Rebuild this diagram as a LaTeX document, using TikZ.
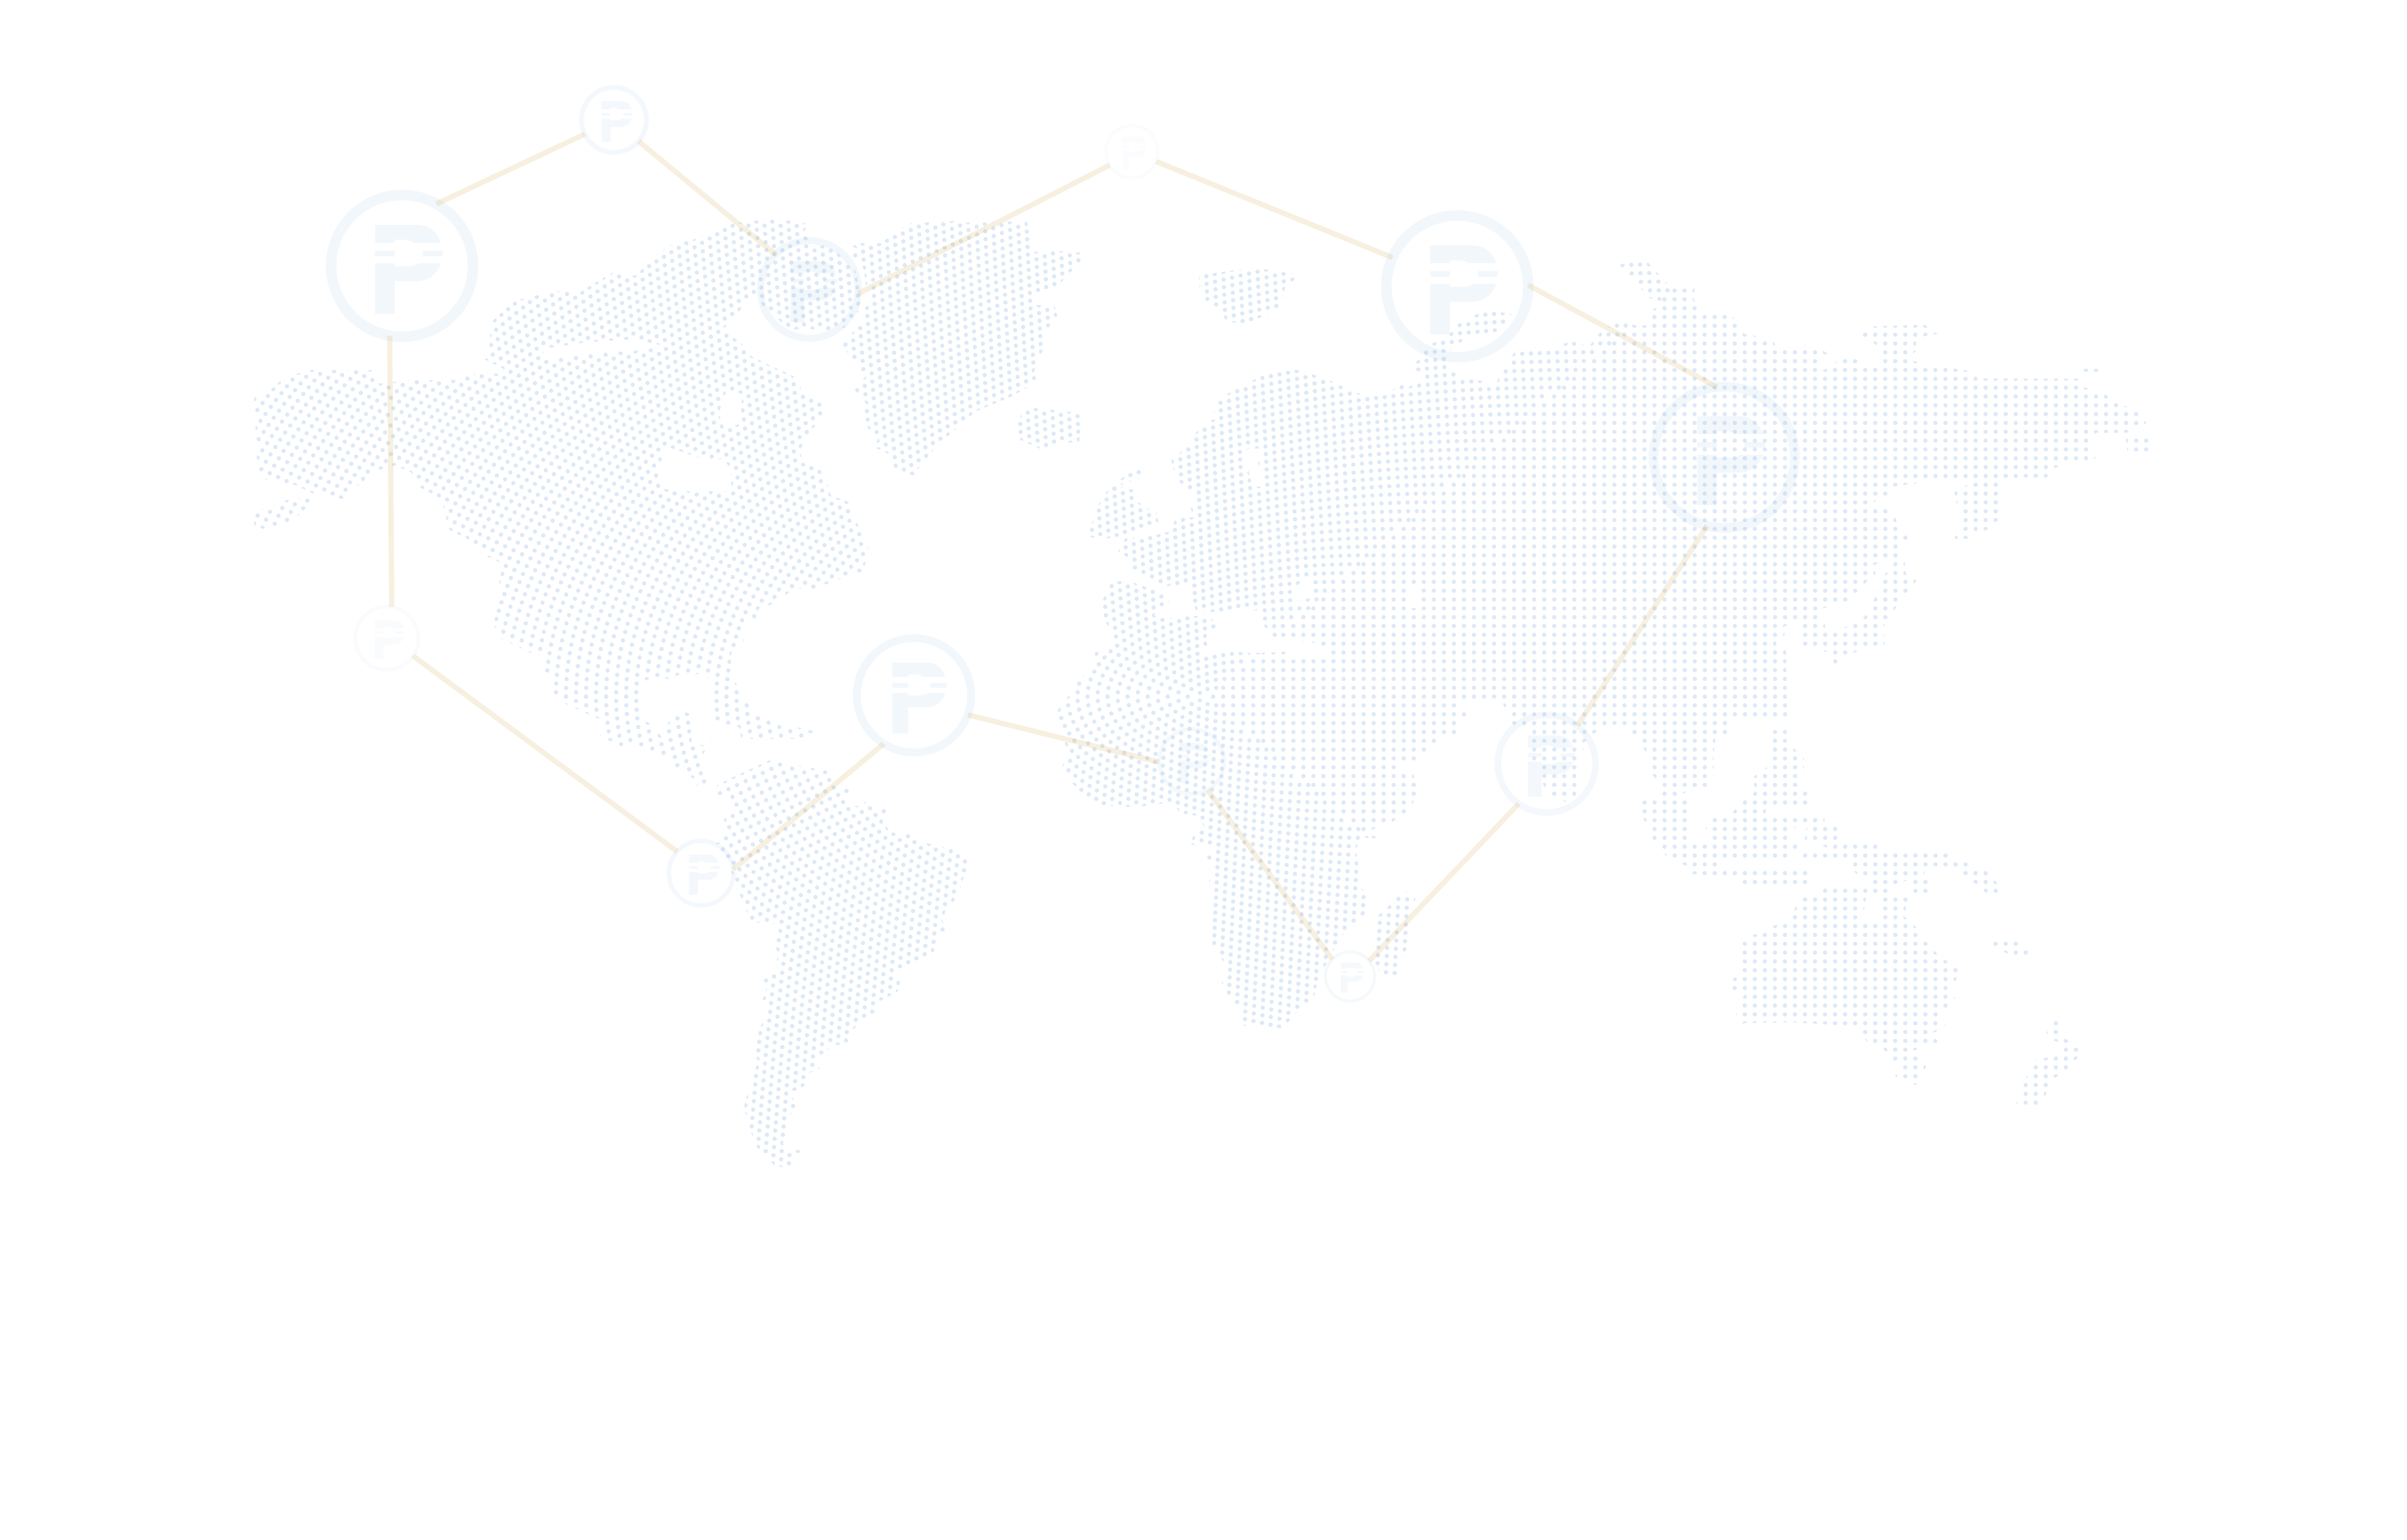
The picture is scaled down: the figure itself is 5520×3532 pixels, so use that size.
\documentclass[tikz,border=0pt]{standalone}
\usepackage{xcolor}
\definecolor{dotblue}{HTML}{DDE9F7}
\definecolor{linkgold}{HTML}{BE8500}
\definecolor{ringblue}{HTML}{438ECD}
\tikzset{
  ring/.style={circle,draw=ringblue,inner sep=0pt,outer sep=0pt},
  link/.style={draw=linkgold,line width=0.12cm,opacity=0.12},
  dotarc/.style={draw=dotblue,line width=0.1cm,line cap=round,dash pattern=on 0pt off 0.2cm},
  dotrow/.style={draw=dotblue,line width=0.1cm,line cap=round,dash pattern=on 0pt off 0.23cm}
}
\newcommand{\pmark}[3]{
  \fill[ringblue,opacity=#3,shift={(#1)},scale=#2] (-62,-94) -- (33,-94) .. controls (62,-94) and (80,-80) .. (89,-53) -- (26,-53) .. controls (20,-58) and (12,-60) .. (5,-60) -- (-17,-60) -- (-17,-53) -- (-62,-53) -- cycle;
  \fill[ringblue,opacity=#3,shift={(#1)},scale=#2] (-62,-35) rectangle (-17,-22) (47,-35) rectangle (93,-22);
  \fill[ringblue,opacity=#3,shift={(#1)},scale=#2] (-62,-6) -- (-17,-6) -- (-17,1) -- (5,1) .. controls (18,1) and (30,0) .. (38,-6) -- (89,-6) .. controls (80,20) and (60,35) .. (33,35) -- (-17,35) -- (-17,110) -- (-62,110) -- cycle;
}
\begin{document}
\begin{tikzpicture}[x=0.01cm,y=-0.01cm]
  \useasboundingbox (0,0) rectangle (5520,3532);
  \begin{scope}[even odd rule]
    \clip
      (583,912) -- (616,898) -- (649,869) -- (707,849) -- (852,849) -- (869,880) -- (939,872) -- (1039,872) -- (1097,855) -- (1147,858) -- (1155,846) -- (1109,823) -- (1122,797) -- (1126,740) -- (1176,691) -- (1271,668) -- (1329,671) -- (1366,648) -- (1412,622) -- (1437,634) -- (1462,631) -- (1491,593) -- (1549,556) -- (1590,550) -- (1677,513) -- (1768,502) -- (1797,504) -- (1857,514) -- (1841,533) -- (1867,565) -- (1905,562) -- (1934,594) -- (1959,610) -- (1966,641) -- (1975,686) -- (1966,721) -- (1937,751) -- (1901,759) -- (1845,753) -- (1808,758) -- (1774,721) -- (1755,710) -- (1730,673) -- (1717,687) -- (1677,737) -- (1656,756) -- (1672,769) -- (1695,782) -- (1723,817) -- (1765,838) -- (1810,858) -- (1832,871) -- (1838,900) -- (1880,917) -- (1891,946) -- (1864,983) -- (1841,1018) -- (1835,1034) -- (1841,1062) -- (1880,1075) -- (1896,1107) -- (1905,1136) -- (1947,1152) -- (1969,1209) -- (1982,1240) -- (1995,1268) -- (1977,1311) -- (1921,1330) -- (1867,1350) -- (1819,1350) -- (1790,1376) -- (1765,1388) -- (1739,1397) -- (1736,1417) -- (1711,1426) -- (1709,1450) -- (1702,1485) -- (1677,1496) -- (1675,1536) -- (1696,1587) -- (1727,1632) -- (1765,1650) -- (1790,1665) -- (1840,1670) -- (1868,1678) -- (1838,1695) -- (1700,1695) -- (1695,1668) -- (1640,1655) -- (1628,1640) -- (1625,1610) -- (1628,1557) -- (1606,1546) -- (1560,1546) -- (1537,1557) -- (1492,1556) -- (1467,1567) -- (1467,1650) -- (1492,1660) -- (1517,1690) -- (1537,1650) -- (1560,1628) -- (1582,1638) -- (1586,1700) -- (1610,1710) -- (1632,1700) -- (1612,1730) -- (1618,1755) -- (1620,1800) -- (1600,1810) -- (1596,1790) -- (1572,1773) -- (1547,1762) -- (1544,1742) -- (1520,1732) -- (1496,1722) -- (1472,1712) -- (1426,1712) -- (1378,1690) -- (1377,1650) -- (1353,1640) -- (1308,1620) -- (1284,1608) -- (1262,1578) -- (1262,1557) -- (1238,1546) -- (1240,1505) -- (1222,1500) -- (1197,1488) -- (1150,1465) -- (1133,1433) -- (1137,1393) -- (1143,1352) -- (1149,1313) -- (1153,1293) -- (1110,1273) -- (1072,1236) -- (1031,1216) -- (1018,1168) -- (1014,1145) -- (960,1116) -- (943,1084) -- (906,1067) -- (865,1079) -- (844,1104) -- (803,1119) -- (786,1145) -- (720,1133) -- (678,1113) -- (612,1101) -- (591,1090) -- (587,1001) -- cycle
      (1528,1024) -- (1611,1053) -- (1661,1053) -- (1677,1081) -- (1677,1127) -- (1578,1127) -- (1515,1121) -- (1507,1081) -- cycle
      (1665,898) -- (1702,903) -- (1698,972) -- (1661,984) -- (1648,949) -- cycle
      (1246,800) -- (1346,785) -- (1453,778) -- (1530,795) -- (1453,805) -- (1346,812) -- (1246,825) -- cycle
      (583,1173) -- (624,1162) -- (670,1142) -- (724,1145) -- (699,1168) -- (670,1196) -- (612,1216) -- (583,1205) -- cycle
      (1644,1802) -- (1647,1823) -- (1672,1831) -- (1679,1852) -- (1660,1881) -- (1667,1902) -- (1653,1931) -- (1631,1939) -- (1672,1989) -- (1682,2010) -- (1685,2030) -- (1704,2068) -- (1711,2088) -- (1726,2121) -- (1749,2113) -- (1778,2120) -- (1787,2138) -- (1774,2167) -- (1787,2188) -- (1778,2211) -- (1787,2229) -- (1746,2250) -- (1758,2267) -- (1749,2294) -- (1762,2312) -- (1752,2337) -- (1742,2362) -- (1733,2391) -- (1726,2416) -- (1739,2432) -- (1730,2460) -- (1723,2485) -- (1714,2511) -- (1707,2536) -- (1714,2577) -- (1736,2631) -- (1749,2648) -- (1778,2675) -- (1819,2681) -- (1825,2652) -- (1848,2641) -- (1806,2635) -- (1795,2623) -- (1803,2598) -- (1809,2573) -- (1816,2548) -- (1838,2536) -- (1822,2524) -- (1806,2507) -- (1832,2499) -- (1851,2486) -- (1857,2461) -- (1880,2451) -- (1864,2437) -- (1908,2416) -- (1892,2399) -- (1950,2395) -- (1940,2378) -- (1985,2333) -- (2010,2320) -- (2017,2297) -- (2058,2275) -- (2065,2250) -- (2052,2233) -- (2093,2214) -- (2138,2194) -- (2146,2167) -- (2154,2142) -- (2175,2131) -- (2160,2113) -- (2169,2088) -- (2199,2053) -- (2205,2026) -- (2215,2001) -- (2224,1974) -- (2183,1947) -- (2151,1941) -- (2119,1932) -- (2082,1906) -- (2061,1916) -- (2039,1904) -- (2023,1885) -- (2039,1859) -- (1985,1840) -- (1963,1850) -- (1940,1840) -- (1952,1811) -- (1926,1800) -- (1899,1769) -- (1800,1750) -- (1774,1740) -- (1752,1750) -- (1711,1769) -- (1666,1790) -- cycle
      (1943,558) -- (1982,558) -- (2020,558) -- (2068,523) -- (2090,512) -- (2189,507) -- (2231,512) -- (2291,509) -- (2355,507) -- (2364,555) -- (2371,578) -- (2432,576) -- (2495,581) -- (2460,619) -- (2428,653) -- (2371,673) -- (2377,699) -- (2419,704) -- (2425,728) -- (2390,766) -- (2398,788) -- (2384,820) -- (2371,852) -- (2377,876) -- (2358,887) -- (2323,908) -- (2237,944) -- (2189,986) -- (2144,1027) -- (2119,1059) -- (2093,1091) -- (2051,1072) -- (2042,1043) -- (2001,1024) -- (2014,1008) -- (1982,972) -- (1975,944) -- (1988,928) -- (1959,893) -- (1972,877) -- (1986,863) -- (1958,826) -- (1929,791) -- (1943,775) -- (1972,747) -- (1985,734) -- (1982,708) -- (1995,696) -- (1985,648) -- (1982,621) -- (1972,598) -- (1950,587) -- (1966,571) -- cycle
      (2347,936) -- (2393,937) -- (2435,943) -- (2482,948) -- (2475,1013) -- (2409,1020) -- (2391,1032) -- (2340,1009) -- (2333,978) -- cycle
      (2750,631) -- (2877,614) -- (2985,631) -- (2948,656) -- (2936,704) -- (2864,742) -- (2810,739) -- (2805,713) -- (2760,693) -- (2751,659) -- cycle
      (2628,1062) -- (2616,1095) -- (2565,1115) -- (2599,1124) -- (2603,1147) -- (2628,1164) -- (2653,1178) -- (2657,1202) -- (2620,1216) -- (2578,1228) -- (2541,1235) -- (2494,1232) -- (2507,1193) -- (2519,1158) -- (2548,1113) -- cycle
      (2564,1265) -- (2581,1235) -- (2642,1230) -- (2682,1219) -- (2697,1190) -- (2738,1186) -- (2730,1165) -- (2748,1141) -- (2723,1120) -- (2697,1100) -- (2686,1055) -- (2722,1026) -- (2736,1003) -- (2752,980) -- (2788,959) -- (2781,935) -- (2798,913) -- (2835,893) -- (2871,874) -- (2906,856) -- (2980,848) -- (3022,863) -- (3059,877) -- (3113,902) -- (3163,903) -- (3196,894) -- (3211,877) -- (3229,889) -- (3270,865) -- (3239,842) -- (3254,824) -- (3266,805) -- (3281,788) -- (3312,780) -- (3328,762) -- (3341,745) -- (3386,721) -- (3420,712) -- (3468,721) -- (3453,742) -- (3438,760) -- (3378,769) -- (3333,794) -- (3319,811) -- (3320,840) -- (3353,866) -- (3399,874) -- (3428,900) -- (3440,851) -- (3457,834) -- (3469,814) -- (3484,797) -- (3556,803) -- (3602,782) -- (3643,796) -- (3672,760) -- (3714,735) -- (3756,748) -- (3783,745) -- (3783,713) -- (3825,694) -- (3783,684) -- (3743,639) -- (3712,607) -- (3774,596) -- (3814,642) -- (3834,658) -- (3888,651) -- (3884,687) -- (3899,703) -- (3913,719) -- (3964,713) -- (3990,749) -- (4002,767) -- (4064,776) -- (4073,796) -- (4152,791) -- (4191,810) -- (4176,831) -- (4182,850) -- (4221,824) -- (4274,824) -- (4232,845) -- (4323,843) -- (4319,828) -- (4310,808) -- (4301,789) -- (4265,773) -- (4283,749) -- (4413,745) -- (4450,764) -- (4395,775) -- (4393,805) -- (4377,826) -- (4435,838) -- (4542,855) -- (4547,868) -- (4770,869) -- (4779,888) -- (4831,907) -- (4859,926) -- (4914,947) -- (4922,971) -- (4877,993) -- (4806,993) -- (4792,1025) -- (4806,1051) -- (4712,1073) -- (4694,1095) -- (4493,1097) -- (4346,1115) -- (4328,1136) -- (4288,1156) -- (4337,1169) -- (4348,1191) -- (4352,1214) -- (4379,1231) -- (4359,1255) -- (4361,1274) -- (4297,1296) -- (4301,1316) -- (4280,1335) -- (4263,1355) -- (4243,1376) -- (4176,1397) -- (4180,1419) -- (4091,1437) -- (4093,1456) -- (4071,1478) -- (4096,1493) -- (4098,1644) -- (4039,1644) -- (4027,1651) -- (3961,1651) -- (3961,1686) -- (3934,1693) -- (3933,1707) -- (3930,1724) -- (3930,1767) -- (3925,1805) -- (3919,1809) -- (3882,1809) -- (3849,1826) -- (3811,1826) -- (3795,1784) -- (3776,1763) -- (3781,1739) -- (3762,1703) -- (3741,1684) -- (3720,1663) -- (3683,1663) -- (3658,1681) -- (3633,1703) -- (3619,1781) -- (3614,1823) -- (3602,1844) -- (3556,1826) -- (3540,1802) -- (3523,1759) -- (3504,1738) -- (3515,1679) -- (3469,1661) -- (3449,1619) -- (3440,1600) -- (3341,1612) -- (3366,1630) -- (3366,1644) -- (3345,1661) -- (3341,1682) -- (3287,1705) -- (3258,1738) -- (3200,1763) -- (3241,1777) -- (3252,1816) -- (3233,1858) -- (3188,1889) -- (3146,1903) -- (3158,1923) -- (3121,1921) -- (3109,1949) -- (3117,2002) -- (3117,2030) -- (3142,2061) -- (3142,2079) -- (3113,2117) -- (3088,2131) -- (3063,2170) -- (3030,2233) -- (3018,2265) -- (3013,2289) -- (2968,2328) -- (2943,2359) -- (2844,2352) -- (2848,2321) -- (2831,2303) -- (2815,2282) -- (2802,2258) -- (2806,2233) -- (2810,2212) -- (2796,2191) -- (2781,2166) -- (2781,2142) -- (2771,2121) -- (2777,2100) -- (2781,2075) -- (2785,2054) -- (2771,2030) -- (2777,2009) -- (2781,1984) -- (2765,1963) -- (2794,1942) -- (2732,1938) -- (2736,1916) -- (2761,1895) -- (2748,1872) -- (2707,1865) -- (2686,1840) -- (2649,1846) -- (2607,1851) -- (2570,1851) -- (2531,1847) -- (2483,1826) -- (2458,1795) -- (2437,1756) -- (2450,1728) -- (2437,1689) -- (2425,1630) -- (2450,1598) -- (2470,1567) -- (2499,1535) -- (2508,1517) -- (2512,1496) -- (2543,1488) -- (2553,1470) -- (2543,1444) -- (2533,1416) -- (2524,1391) -- (2545,1335) -- (2587,1332) -- (2674,1363) -- (2682,1388) -- (2645,1411) -- (2669,1419) -- (2769,1411) -- (2798,1439) -- (2765,1461) -- (2769,1484) -- (2744,1491) -- (2769,1503) -- (2823,1493) -- (2868,1499) -- (2947,1495) -- (2955,1514) -- (3034,1510) -- (3047,1493) -- (3018,1475) -- (2931,1468) -- (2910,1451) -- (2893,1426) -- (2897,1400) -- (2877,1400) -- (2858,1391) -- (2824,1405) -- (2744,1403) -- (2732,1371) -- (2725,1345) -- (2686,1342) -- (2667,1348) -- (2645,1334) -- (2620,1319) -- (2592,1305) -- (2587,1279) -- cycle
      (2976,1342) -- (3001,1321) -- (3009,1370) -- (2976,1381) -- (2972,1363) -- cycle
      (3232,1345) -- (3255,1340) -- (3262,1395) -- (3236,1395) -- cycle
      (2860,1029) -- (2897,1029) -- (2885,1061) -- (2891,1087) -- (2896,1115) -- (2873,1118) -- (2868,1101) -- (2863,1078) -- (2856,1055) -- cycle
      (3217,2040) -- (3246,2061) -- (3237,2100) -- (3229,2170) -- (3208,2212) -- (3208,2244) -- (3167,2237) -- (3154,2212) -- (3150,2163) -- (3150,2110) -- (3196,2068) -- cycle
      (4875,1006) -- (4932,1004) -- (4938,1035) -- (4879,1036) -- cycle
      (4772,846) -- (4812,846) -- (4812,862) -- (4772,862) -- cycle
      (4527,1105) -- (4581,1105) -- (4589,1150) -- (4581,1194) -- (4557,1215) -- (4515,1236) -- (4482,1236) -- (4497,1194) -- (4487,1153) -- (4482,1127) -- cycle
      (4337,1289) -- (4368,1289) -- (4370,1316) -- (4397,1329) -- (4377,1357) -- (4355,1376) -- (4337,1418) -- (4319,1437) -- (4322,1478) -- (4252,1497) -- (4207,1525) -- (4198,1498) -- (4122,1478) -- (4122,1428) -- (4185,1428) -- (4185,1448) -- (4216,1445) -- (4265,1425) -- (4285,1405) -- (4300,1370) -- (4313,1330) -- (4333,1305) -- cycle
      (4060,1675) -- (4097,1675) -- (4097,1703) -- (4114,1717) -- (4137,1739) -- (4137,1763) -- (4131,1784) -- (4131,1805) -- (4151,1819) -- (4147,1847) -- (4107,1847) -- (4077,1847) -- (4052,1847) -- (4048,1868) -- (3969,1868) -- (3998,1837) -- (4023,1819) -- (4023,1781) -- (4052,1760) -- (4056,1717) -- cycle
      (3758,1835) -- (3867,1835) -- (3880,1879) -- (3875,1907) -- (3872,1931) -- (3911,1936) -- (3927,1921) -- (3911,1900) -- (3915,1877) -- (4184,1877) -- (4184,1889) -- (4106,1900) -- (4106,1931) -- (4124,1936) -- (4124,1949) -- (4095,1969) -- (3944,1970) -- (3944,1988) -- (4151,1995) -- (4151,2028) -- (3994,2028) -- (3994,2016) -- (3882,2005) -- (3864,1985) -- (3822,1966) -- (3806,1938) -- (3789,1928) -- (3791,1914) -- (3774,1886) -- (3758,1865) -- cycle
      (4143,1896) -- (4226,1896) -- (4226,1928) -- (4205,1936) -- (4311,1936) -- (4311,1949) -- (4379,1956) -- (4433,1957) -- (4470,1957) -- (4470,1977) -- (4512,1979) -- (4512,1988) -- (4555,1998) -- (4574,2019) -- (4591,2040) -- (4591,2051) -- (4557,2051) -- (4537,2030) -- (4497,2011) -- (4497,1990) -- (4417,1990) -- (4412,2006) -- (4431,2023) -- (4429,2051) -- (4392,2051) -- (4375,2019) -- (4338,2030) -- (4301,2030) -- (4263,2009) -- (4242,1991) -- (4242,1973) -- (4131,1971) -- (4131,1956) -- (4205,1949) -- (4139,1928) -- cycle
      (4180,2035) -- (4334,2035) -- (4334,2054) -- (4375,2058) -- (4367,2103) -- (4383,2114) -- (4400,2135) -- (4417,2156) -- (4433,2177) -- (4450,2198) -- (4491,2216) -- (4487,2244) -- (4479,2265) -- (4470,2279) -- (4487,2293) -- (4454,2321) -- (4446,2342) -- (4462,2352) -- (4429,2373) -- (4446,2391) -- (4383,2412) -- (4402,2426) -- (4417,2447) -- (4406,2469) -- (4396,2488) -- (4383,2488) -- (4346,2468) -- (4356,2444) -- (4339,2430) -- (4321,2408) -- (4284,2392) -- (4267,2373) -- (4251,2354) -- (4110,2345) -- (3998,2347) -- (3994,2363) -- (3983,2361) -- (3981,2317) -- (3990,2296) -- (4002,2282) -- (3958,2265) -- (3980,2240) -- (3990,2212) -- (3998,2194) -- (3980,2177) -- (3990,2156) -- (4048,2135) -- (4081,2117) -- (4112,2100) -- (4118,2079) -- (4126,2058) -- (4176,2058) -- cycle
      (4280,2054) -- (4313,2054) -- (4305,2110) -- (4271,2110) -- cycle
      (4570,2153) -- (4610,2153) -- (4650,2175) -- (4650,2192) -- (4612,2192) -- (4570,2170) -- cycle
      (4707,2335) -- (4732,2356) -- (4727,2380) -- (4765,2394) -- (4781,2415) -- (4748,2440) -- (4740,2458) -- (4707,2475) -- (4698,2493) -- (4690,2514) -- (4682,2535) -- (4624,2533) -- (4632,2503) -- (4640,2486) -- (4649,2468) -- (4665,2433) -- (4723,2419) -- (4729,2394) -- (4690,2380) -- (4698,2356) -- cycle;
    \foreach \k in {1,...,125} {
      \pgfmathsetmacro{\rx}{0.46*\k}
      \pgfmathsetmacro{\ry}{0.2025*\k}
      \pgfmathsetmacro{\ph}{0.1*mod(\k,2)}
      \draw[dotarc,dash phase=\ph cm] (2770-23*\k,1598) arc[start angle=180,end angle=90,x radius=\rx cm,y radius=\ry cm];
      \draw[dotarc,dash phase=\ph cm] (2770-23*\k,1598) arc[start angle=180,end angle=270,x radius=\rx cm,y radius=\ry cm];
    }
    \foreach \k in {0,...,48} {
      \pgfmathsetmacro{\xs}{2782+23*\k}
      \draw[dotrow] (\xs,1598-20.25*\k) -- (5000,1598-20.25*\k);
      \draw[dotrow] (\xs,1598+20.25*\k) -- (5000,1598+20.25*\k);
    }
  \end{scope}
  \node[ring,minimum size=3.25cm,line width=0.24cm,draw opacity=0.07] (a) at (922,610) {};
  \node[ring,minimum size=1.49cm,line width=0.11cm,draw opacity=0.06] (b) at (1408,275) {};
  \node[ring,minimum size=2.24cm,line width=0.16cm,draw opacity=0.07] (c) at (1856,664) {};
  \node[ring,minimum size=1.20cm,line width=0.08cm,draw opacity=0.025] (d) at (2596,348) {};
  \node[ring,minimum size=3.25cm,line width=0.24cm,draw opacity=0.07] (e) at (3342,657) {};
  \node[ring,minimum size=3.24cm,line width=0.22cm,draw opacity=0.07] (f) at (3954,1049) {};
  \node[ring,minimum size=2.24cm,line width=0.15cm,draw opacity=0.06] (g) at (3547,1752) {};
  \node[ring,minimum size=1.13cm,line width=0.07cm,draw opacity=0.05] (h) at (3096,2240) {};
  \node[ring,minimum size=1.49cm,line width=0.09cm,draw opacity=0.05] (i) at (2733,1747) {};
  \node[ring,minimum size=2.62cm,line width=0.18cm,draw opacity=0.07] (j) at (2096,1595) {};
  \node[ring,minimum size=1.48cm,line width=0.10cm,draw opacity=0.06] (k) at (1608,2003) {};
  \node[ring,minimum size=1.45cm,line width=0.09cm,draw opacity=0.03] (l) at (887,1464) {};
  \pmark{a}{1}{0.07}
  \pmark{b}{0.46}{0.06}
  \pmark{c}{0.69}{0.07}
  \pmark{d}{0.37}{0.025}
  \pmark{e}{1}{0.07}
  \pmark{f}{1}{0.07}
  \pmark{g}{0.69}{0.06}
  \pmark{h}{0.34}{0.05}
  \pmark{i}{0.45}{0.05}
  \pmark{j}{0.8}{0.07}
  \pmark{k}{0.45}{0.06}
  \pmark{l}{0.44}{0.03}
  \draw[link] (a.61.5) to (b.206.2);
  \draw[link] (b.319.7) to (c.134.6);
  \draw[link] (c.355.4) to (d.211.1);
  \draw[link] (d.338.4) to (e.156.6);
  \draw[link] (e.1.7) to (f.96.6);
  \draw[link] (f.256.3) to (g.51);
  \draw[link] (g.235.3) to (h.39);
  \draw[link] (h.136.4) to (i.299.6);
  \draw[link] (i.181.5) to (j.340.3);
  \draw[link] (j.238.4) to (k.7.5);
  \draw[link] (k.138.7) to (l.326.3);
  \draw[link] (l.81.5) to (a.260.1);
\end{tikzpicture}
\end{document}
